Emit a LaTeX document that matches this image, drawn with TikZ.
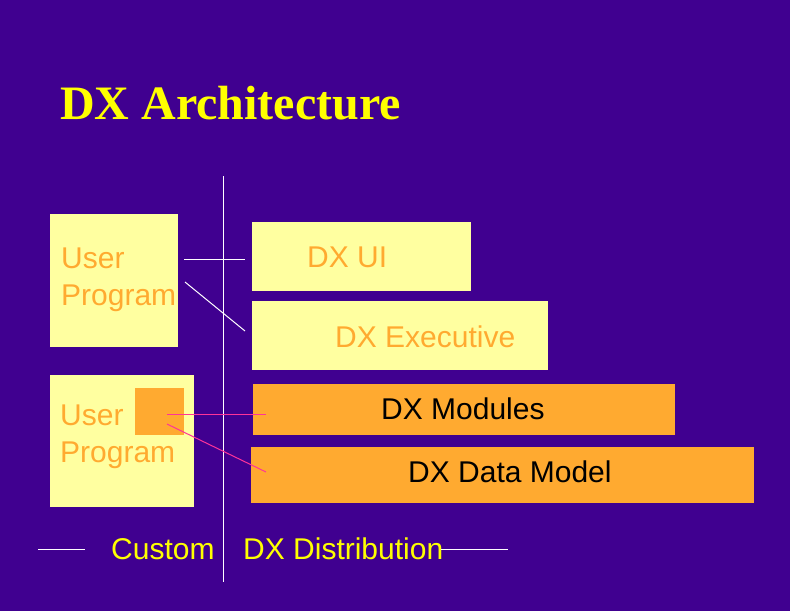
\documentclass[tikz,border=0pt]{standalone}
\usepackage{fontspec}
\setmainfont{Liberation Sans}
\newfontfamily\titlefont{Liberation Serif}
\usetikzlibrary{positioning}
\definecolor{dxpurple}{RGB}{64,0,144}
\definecolor{dxcream}{RGB}{255,255,160}
\definecolor{dxorange}{RGB}{255,170,48}
\definecolor{dxpink}{RGB}{255,51,153}
\definecolor{dxyellow}{RGB}{255,255,0}

\begin{document}
\begin{tikzpicture}[x=1pt, y=-1pt,
    cream/.style = {fill=dxcream, draw=none, anchor=north west, inner sep=0pt},
    orangebox/.style = {fill=dxorange, draw=none, anchor=north west, inner sep=0pt},
    boxtext/.style = {anchor=base west, inner sep=0pt,
      font=\fontsize{30}{37}\selectfont},
    wire/.style = {draw=white, line width=1pt},
    pinkwire/.style = {draw=dxpink, line width=1pt},
  ]
\fill[dxpurple] (0,0) rectangle (790,611);
% title
\node[anchor=base west, inner sep=0pt, text=dxyellow,
      font=\titlefont\bfseries\fontsize{48}{58}\selectfont] (title) at (60,119) {DX Architecture};
% divider
\coordinate (divtop) at (223,176);
\coordinate (divbot) at (223,582);
\draw[wire] (divtop) -- (divbot);
% user side
\node[cream, minimum width=128, minimum height=133] (user1) at (50,214) {};
\node[boxtext, text=dxorange, align=left] (user1txt) at (61,305) {User\\Program};
\node[cream, minimum width=144, minimum height=132] (user2) at (50,375) {};
\node[orangebox, minimum width=49, minimum height=47] (plug) at (135,388) {};
\node[boxtext, text=dxorange, align=left] (user2txt) at (60,462) {User\\Program};
% dx side
\node[cream, minimum width=219, minimum height=69] (ui) at (252,222) {};
\node[boxtext, text=dxorange] (uitxt) at (307,267) {DX UI};
\node[cream, minimum width=296, minimum height=69] (exec) at (252,301) {};
\node[boxtext, text=dxorange] (exectxt) at (335,347) {DX Executive};
\node[orangebox, minimum width=422, minimum height=51] (mods) at (253,384) {};
\node[boxtext, text=black] (modstxt) at (381,419) {DX Modules};
\node[orangebox, minimum width=503, minimum height=56] (data) at (251,447) {};
\node[boxtext, text=black] (datatxt) at (408,482) {DX Data Model};
% links
\coordinate (u1a) at (184,259);
\coordinate (u1b) at (185,282);
\coordinate (uia) at (245,259);
\coordinate (exa) at (245,331);
\draw[wire] (u1a) -- (uia);
\draw[wire] (u1b) -- (exa);
\coordinate (pga) at (167,414);
\coordinate (pgb) at (167,424);
\coordinate (mda) at (266,414);
\coordinate (dta) at (266,472);
\draw[pinkwire] (pga) -- (mda);
\draw[pinkwire] (pgb) -- (dta);
% legend
\node[boxtext, text=dxyellow] (custom) at (111,559) {Custom};
\node[boxtext, text=dxyellow] (distrib) at (243,559) {DX Distribution};
\coordinate (lga) at (38,549);
\coordinate (lgb) at (85,549);
\coordinate (lgc) at (441,549);
\coordinate (lgd) at (508,549);
\draw[wire] (lga) -- (lgb);
\draw[wire] (lgc) -- (lgd);
\end{tikzpicture}
\end{document}
